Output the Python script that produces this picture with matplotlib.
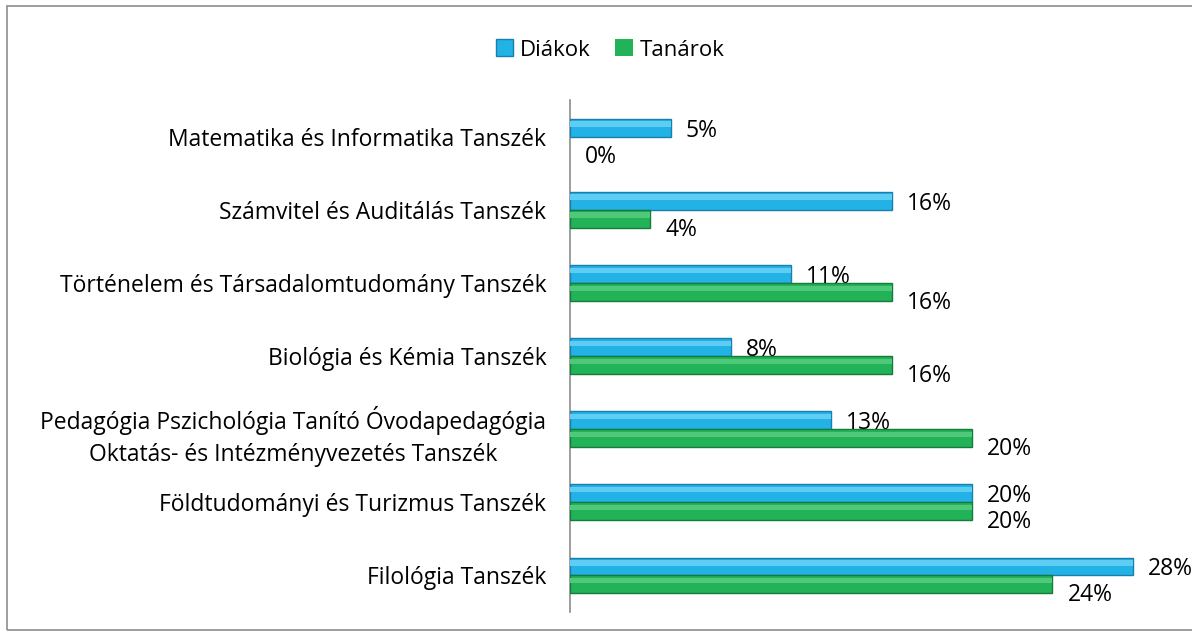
import numpy as np
import matplotlib.pyplot as plt
from matplotlib.patches import Rectangle

categories = [
    "Matematika és Informatika Tanszék",
    "Számvitel és Auditálás Tanszék",
    "Történelem és Társadalomtudomány Tanszék",
    "Biológia és Kémia Tanszék",
    "Pedagógia Pszichológia Tanító Óvodapedagógia\nOktatás- és Intézményvezetés Tanszék",
    "Földtudományi és Turizmus Tanszék",
    "Filológia Tanszék",
]
diakok = [5, 16, 11, 8, 13, 20, 28]
tanarok = [0, 4, 16, 16, 20, 20, 24]

plt.rcParams["font.family"] = ["Open Sans", "DejaVu Sans"]
fs = 16.5

fig = plt.figure(figsize=(11.92, 6.35), dpi=100)
ax = fig.add_axes([570 / 1192, 23 / 635, 603 / 1192, 512 / 635])

# outer frame of the chart area
fig.patches.append(Rectangle((7 / 1192, 5 / 635), 1.0, 624 / 635, transform=fig.transFigure,
                             fill=False, edgecolor="#8c8c8c", linewidth=1.2))

y = np.arange(len(categories))
h = 0.245
blue, blue_e, blue_l = "#22b2e6", "#1a7fae", "#5fcdf3"
green, green_e, green_l = "#22b257", "#157a3a", "#4fc979"

lw_d = [1.0 if v > 0 else 0 for v in diakok]
lw_t = [1.0 if v > 0 else 0 for v in tanarok]
ax.barh(y - h / 2, diakok, height=h, color=blue, edgecolor=blue_e, linewidth=lw_d, label="Diákok", zorder=3)
ax.barh(y + h / 2, tanarok, height=h, color=green, edgecolor=green_e, linewidth=lw_t, label="Tanárok", zorder=3)
# bevel highlight
ax.barh(y - h / 2 - h * 0.2, diakok, height=h * 0.3, color=blue_l, linewidth=0, zorder=4)
ax.barh(y + h / 2 - h * 0.2, tanarok, height=h * 0.3, color=green_l, linewidth=0, zorder=4)

for i in range(len(categories)):
    ax.text(diakok[i] + 0.75, y[i] - h / 2 + 0.04, f"{diakok[i]}%", va="center", ha="left", fontsize=fs)
    ax.text(tanarok[i] + 0.75, y[i] + h / 2 + 0.15, f"{tanarok[i]}%", va="center", ha="left", fontsize=fs)

ax.set_xlim(0, 30)
ax.set_ylim(len(categories) - 0.5, -0.5)
ax.set_yticks(y)
labels = ax.set_yticklabels(categories, fontsize=fs, multialignment="center")
labels[4].set_linespacing(1.45)
ax.tick_params(axis="y", length=0, pad=17)
ax.set_xticks([])
for s in ["top", "right", "bottom"]:
    ax.spines[s].set_visible(False)
ax.spines["left"].set_color("#8c8c8c")
ax.spines["left"].set_linewidth(1.2)

fig.legend(handles=ax.containers[:2], labels=["Diákok", "Tanárok"], loc="center",
           bbox_to_anchor=(610 / 1192, 1 - 50 / 635), ncol=2, frameon=False, fontsize=16,
           handlelength=0.8, handleheight=0.8, handletextpad=0.3, columnspacing=1.1)

fig.savefig("out.png", dpi=100)
